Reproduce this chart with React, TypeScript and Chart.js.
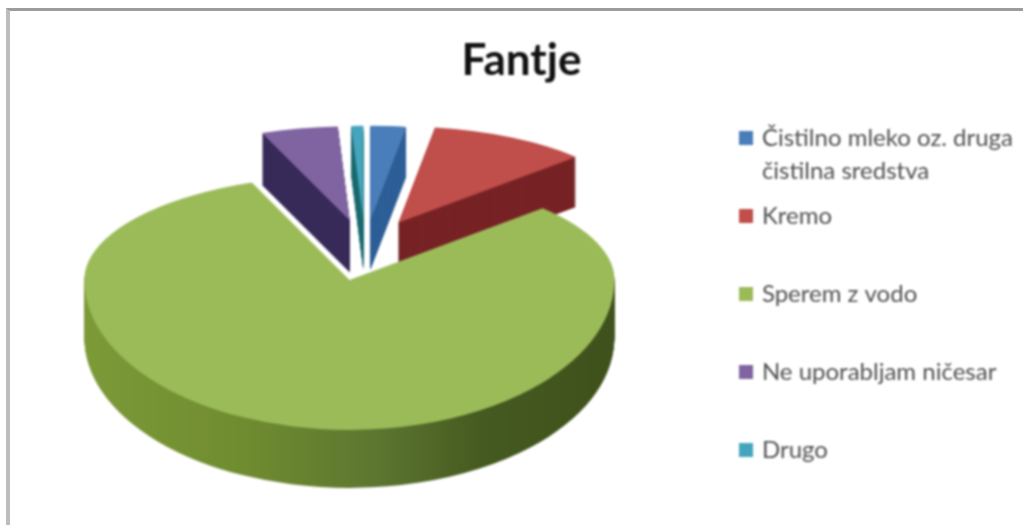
import React, { useEffect, useRef } from "react";
import { Chart, registerables } from "chart.js";

Chart.register(...registerables);

const categories = ["Čistilno mleko oz. druga\nčistilna sredstva", "Kremo", "Sperem z vodo", "Ne uporabljam ničesar", "Drugo"];
const shares = [2.4, 10.6, 81.0, 5.2, 0.8];
const topColors = ["#4a7ebb", "#c04e4b", "#9bbb59", "#8064a2", "#45a5bd"];
const wallColors = ["#2f5f97", "#772325", "#5f7a2c", "#372a58", "#1c6b70"];
const legendColor = "#505050";

const PIE_CX = 365;
const PIE_CY = 245;
const RX = 265;
const K_UP = 0.395;
const K_LOW = 0.566;
const EXP_UP = 0.35;
const EXP_LOW = 0.5;
const EXPLODE = 0.27;
const radial = [0.9, 0.92, 1, 0.9, 0.9];
const depths = [50, 50, 58, 52, 50];
const drawOrder = [3, 4, 0, 1, 2];
const SWATCH = 14;

function swatch(color: string) {
  const c = document.createElement("canvas");
  c.width = SWATCH;
  c.height = SWATCH;
  const x = c.getContext("2d")!;
  x.fillStyle = color;
  x.fillRect(0, 0, SWATCH, SWATCH);
  return c;
}

function drawPiece(ctx: any, arc: any, i: number, dy: number, fill: any) {
  const R = arc.outerRadius;
  const k = RX / R;
  const mid = (arc.startAngle + arc.endAngle) / 2;
  const sx = Math.cos(mid) * EXPLODE * RX;
  const sy = Math.sin(mid) * EXPLODE * RX;
  const px = PIE_CX + sx;
  const py = PIE_CY + dy + sy * (sy > 0 ? EXP_LOW : EXP_UP);
  const saved = arc.options;
  arc.options = { ...saved, backgroundColor: fill };
  const pieces = [
    { top: 0, h: py + 0.5, ky: K_UP },
    { top: py, h: 1000, ky: K_LOW },
  ];
  for (const p of pieces) {
    ctx.save();
    ctx.beginPath();
    ctx.rect(0, p.top, 1023, p.h);
    ctx.clip();
    ctx.translate(px, py);
    ctx.scale(k * radial[i], k * radial[i] * p.ky);
    ctx.translate(-arc.x, -arc.y);
    arc.draw(ctx);
    ctx.restore();
  }
  arc.options = saved;
}

const pie3d = {
  id: "pie3d",
  beforeDatasetDraw(chart: any) {
    const ctx = chart.ctx;
    const arcs = chart.getDatasetMeta(0).data;
    for (const i of drawOrder) {
      const arc = arcs[i];
      let wall: any = wallColors[i];
      if (i === 2) {
        const g = ctx.createLinearGradient(arc.x - arc.outerRadius, 0, arc.x + arc.outerRadius, 0);
        g.addColorStop(0, "#7c9a38");
        g.addColorStop(0.3, "#708c30");
        g.addColorStop(0.55, "#5d7630");
        g.addColorStop(0.75, "#455a20");
        g.addColorStop(1, "#3f511c");
        wall = g;
      }
      for (let d = depths[i]; d >= 1; d--) drawPiece(ctx, arc, i, d, wall);
      drawPiece(ctx, arc, i, 0, topColors[i]);
    }
    return false;
  },
  afterDraw(chart: any) {
    const ctx = chart.ctx;
    const box = chart.legend.legendHitBoxes[0];
    const parts = categories[0].split("\n");
    const lab = chart.options.plugins.legend.labels;
    ctx.save();
    ctx.font = `${lab.font.size}px ${lab.font.family}`;
    ctx.fillStyle = legendColor;
    ctx.textBaseline = "middle";
    ctx.textAlign = "left";
    ctx.fillText(parts[1], box.left + lab.pointStyleWidth + lab.font.size / 2, box.top + box.height / 2 + 33);
    ctx.restore();
  },
};

export default function App() {
  const ref = useRef<HTMLCanvasElement>(null);
  useEffect(() => {
    const chart = new Chart(ref.current!, {
      type: "pie",
      data: {
        labels: categories.map((c) => c.replace("\n", " ")),
        datasets: [{ data: shares, backgroundColor: topColors, borderWidth: 0, hoverOffset: 0 }],
      },
      options: {
        responsive: false,
        animation: false,
        layout: { padding: { left: 20, right: 0, bottom: 9 } },
        plugins: {
          tooltip: { enabled: false },
          title: {
            display: true,
            text: "Fantje",
            color: "#111111",
            font: { family: "Lato", size: 44, weight: "bold" },
            padding: { top: 34, bottom: 82 },
          },
          legend: {
            position: "right",
            align: "end",
            labels: {
              color: legendColor,
              usePointStyle: true,
              pointStyleWidth: 7,
              boxWidth: SWATCH,
              boxHeight: SWATCH,
              padding: 54,
              font: { family: "Lato", size: 24 },
              generateLabels: () =>
                categories.map((c, i) => ({
                  text: c.split("\n")[0],
                  fillStyle: topColors[i],
                  strokeStyle: topColors[i],
                  fontColor: legendColor,
                  pointStyle: swatch(topColors[i]),
                  lineWidth: 0,
                  index: i,
                })),
            },
          },
        },
      } as any,
      plugins: [pie3d],
    });
    return () => chart.destroy();
  }, []);
  return (
    <div style={{ position: "absolute", left: 0, top: 0, width: 1023, height: 525, background: "#fff", overflow: "hidden" }}>
      <div style={{ position: "absolute", left: 6, top: 8, right: 0, bottom: 0, borderLeft: "4px solid #bdbdbd", borderTop: "3px solid #9c9c9c" }} />
      <canvas ref={ref} width={1023} height={525} style={{ position: "absolute", left: 0, top: 0, filter: "blur(0.8px)" }} />
    </div>
  );
}
